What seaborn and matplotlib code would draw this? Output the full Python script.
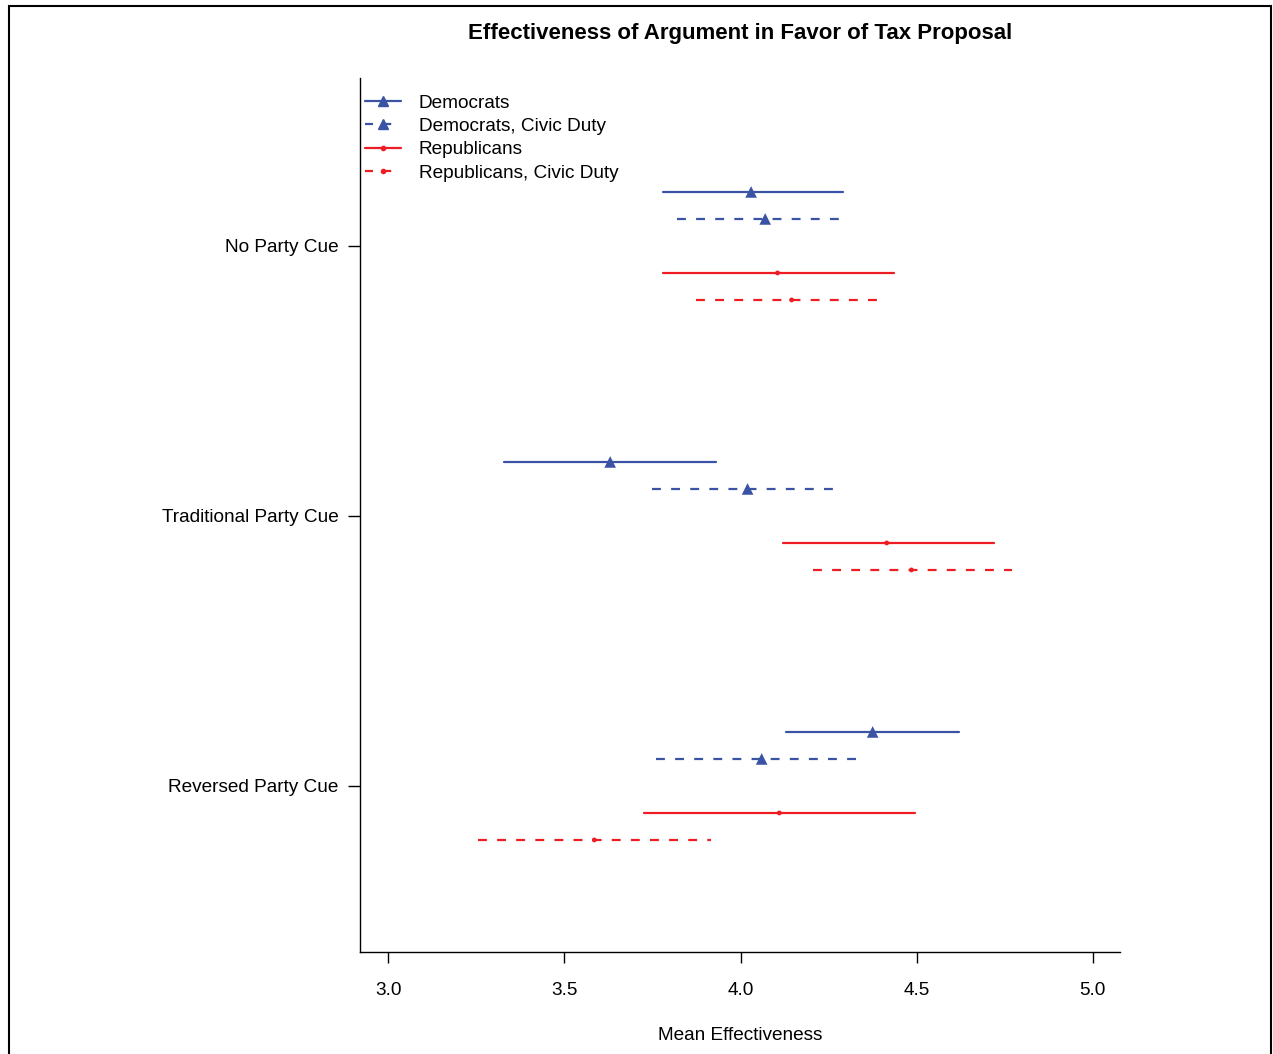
import matplotlib
matplotlib.use("Agg")
import matplotlib.pyplot as plt
from matplotlib.lines import Line2D
from matplotlib.patches import Rectangle
import pandas as pd
import seaborn as sns

# data
cues = ["No Party Cue", "Traditional Party Cue", "Reversed Party Cue"]
groups = ["Democrats", "Democrats, Civic Duty", "Republicans", "Republicans, Civic Duty"]

means = [
    [4.03, 4.07, 4.105, 4.145],
    [3.63, 4.02, 4.415, 4.485],
    [4.375, 4.06, 4.11, 3.585],
]
lows = [
    [3.78, 3.82, 3.78, 3.875],
    [3.33, 3.75, 4.12, 4.205],
    [4.13, 3.76, 3.725, 3.255],
]
highs = [
    [4.29, 4.285, 4.435, 4.395],
    [3.93, 4.265, 4.72, 4.77],
    [4.62, 4.335, 4.495, 3.915],
]

blue = "#3A53A4"
red = "#EE1D24"
colors = {groups[0]: blue, groups[1]: blue, groups[2]: red, groups[3]: red}
dash_map = {groups[0]: "", groups[1]: (4.0, 4.6), groups[2]: "", groups[3]: (4.0, 4.6)}
marker_map = {groups[0]: "^", groups[1]: "^", groups[2]: "o", groups[3]: "o"}
size_map = {groups[0]: 70, groups[1]: 70, groups[2]: 12, groups[3]: 12}
offsets = {groups[0]: -0.2, groups[1]: -0.1, groups[2]: 0.1, groups[3]: 0.2}

rows = []
pts = []
for i, cue in enumerate(cues):
    for j, g in enumerate(groups):
        y = i + offsets[g]
        rows.append({"interval": f"{i}-{j}", "group": g, "x": lows[i][j], "y": y})
        rows.append({"interval": f"{i}-{j}", "group": g, "x": highs[i][j], "y": y})
        pts.append({"group": g, "x": means[i][j], "y": y})
seg = pd.DataFrame(rows)
pt = pd.DataFrame(pts)

sns.set_style("ticks")
plt.rcParams["font.family"] = ["Liberation Sans", "DejaVu Sans"]
plt.rcParams["text.color"] = "black"
plt.rcParams["axes.edgecolor"] = "black"
plt.rcParams["xtick.color"] = "black"
plt.rcParams["ytick.color"] = "black"

fig = plt.figure(figsize=(12.73, 10.54), dpi=100)
ax = fig.add_axes([360 / 1273, 1 - 952 / 1054, 760 / 1273, 874 / 1054])

sns.lineplot(data=seg, x="x", y="y", hue="group", style="group", units="interval",
             estimator=None, sort=False, palette=colors, dashes=dash_map,
             linewidth=1.6, legend=False, ax=ax)
sns.scatterplot(data=pt, x="x", y="y", hue="group", style="group", size="group",
                palette=colors, markers=marker_map, sizes=size_map,
                linewidth=0, legend=False, ax=ax, zorder=3)

ax.set_xlim(2.92, 5.077)
ax.set_ylim(2.615, -0.622)
ax.set_xticks([3.0, 3.5, 4.0, 4.5, 5.0])
ax.set_xticklabels(["3.0", "3.5", "4.0", "4.5", "5.0"])
ax.set_yticks(range(len(cues)))
ax.set_yticklabels(cues)
ax.set_xlabel("")
ax.set_ylabel("")
ax.tick_params(axis="x", length=8, width=1, pad=13.5, labelsize=13.7)
ax.tick_params(axis="y", length=8.6, width=1, pad=7, labelsize=13.7)
for side in ["top", "right"]:
    ax.spines[side].set_visible(False)
for side in ["left", "bottom"]:
    ax.spines[side].set_linewidth(1)

handles = []
for g in groups:
    handles.append(Line2D([], [], color=colors[g], linewidth=1.6,
                          linestyle="-" if dash_map[g] == "" else (0, (3.6, 4.6)),
                          marker=marker_map[g],
                          markersize=7 if marker_map[g] == "^" else 3))
ax.legend(handles, groups, loc="upper left", bbox_to_anchor=(1.5 / 760, 0.9857),
          frameon=False, fontsize=13.7, handlelength=1.9, handletextpad=0.9,
          labelspacing=0.32, borderpad=0.2, borderaxespad=0)

fig.text(740 / 1273, 1 - 33 / 1054, "Effectiveness of Argument in Favor of Tax Proposal",
         ha="center", va="center", fontsize=16, fontweight="bold")
fig.text(740 / 1273, 1 - 1035 / 1054, "Mean Effectiveness", ha="center", va="center",
         fontsize=13.7)

fig.patches.append(Rectangle((8.5 / 1273, -0.02), 1262 / 1273, 1.02 - 6.5 / 1054,
                             transform=fig.transFigure, fill=False, edgecolor="black",
                             linewidth=1.5))

fig.savefig("out.png", dpi=100)
